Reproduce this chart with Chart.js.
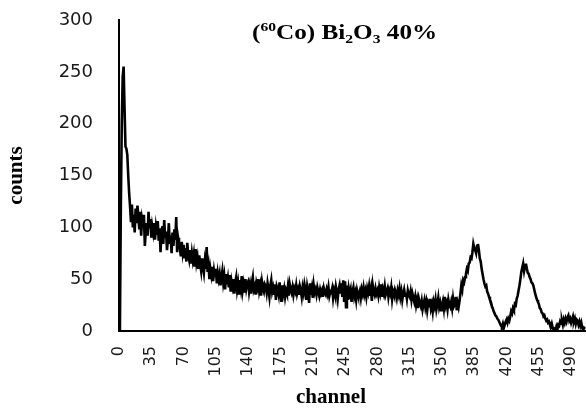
<!DOCTYPE html>
<html><head><meta charset="utf-8">
<style>html,body{margin:0;padding:0;background:#fff;}</style>
<script src="https://cdn.jsdelivr.net/npm/chart.js@4.4.1/dist/chart.umd.min.js"></script>
</head><body>
<canvas id="c" width="586" height="410"></canvas>
<script>
// counts per channel (channel 0 .. 505)
const counts = [
  0, 4, 120, 200, 245, 255, 215, 178, 176, 170,
  150, 133, 120, 105, 122, 100, 112, 95, 118, 104,
  121, 110, 98, 115, 92, 107, 101, 112, 82, 96,
  104, 92, 115, 99, 108, 90, 101, 95, 104, 88,
  100, 93, 106, 87, 99, 76, 95, 101, 84, 107,
  90, 96, 78, 88, 104, 84, 92, 75, 95, 82,
  98, 88, 110, 76, 90, 84, 80, 72, 86, 76,
  83, 70, 80, 67, 85, 74, 69, 78, 65, 75,
  68, 74, 62, 79, 66, 71, 60, 73, 64, 58,
  70, 62, 56, 67, 60, 81, 57, 63, 50, 60,
  54, 62, 48, 58, 52, 60, 46, 56, 50, 55,
  44, 52, 58, 47, 53, 40, 55, 45, 51, 42,
  54, 38, 48, 43, 50, 36, 47, 52, 40, 46,
  35, 49, 42, 53, 39, 45, 37, 50, 41, 46,
  48, 38, 44, 36, 47, 52, 40, 43, 35, 46,
  42, 50, 39, 44, 34, 47, 41, 38, 45, 43,
  37, 46, 40, 33, 44, 49, 38, 42, 36, 45,
  30, 43, 40, 35, 47, 38, 28, 44, 36, 41,
  33, 39, 36, 43, 34, 45, 40, 37, 42, 35,
  41, 38, 44, 36, 40, 35, 43, 39, 33, 42,
  37, 45, 40, 30, 43, 38, 27, 46, 35, 41,
  32, 44, 37, 40, 35, 42, 38, 34, 40, 36,
  39, 33, 41, 37, 35, 40, 36, 42, 34, 38,
  37, 41, 32, 39, 35, 43, 38, 31, 40, 44,
  36, 46, 33, 49, 28, 48, 23, 44, 30, 41,
  36, 40, 28, 38, 42, 33, 37, 30, 39, 35,
  34, 38, 32, 40, 36, 42, 35, 39, 33, 41,
  37, 43, 34, 40, 29, 44, 38, 35, 41, 36,
  39, 34, 42, 37, 45, 33, 40, 36, 43, 35,
  38, 41, 33, 39, 36, 42, 31, 38, 35, 40,
  37, 32, 39, 35, 41, 33, 38, 30, 36, 40,
  34, 37, 31, 39, 35, 33, 38, 30, 36, 32,
  28, 33, 25, 30, 22, 31, 27, 24, 29, 21,
  26, 30, 23, 28, 20, 27, 24, 31, 22, 26,
  19, 28, 24, 30, 21, 26, 32, 23, 27, 20,
  25, 29, 22, 33, 24, 27, 21, 30, 25, 23,
  28, 22, 31, 24, 26, 33, 20, 27, 23, 29,
  36, 44, 40, 49, 47, 52, 55, 60, 58, 65,
  66, 71, 70, 76, 84, 80, 78, 75, 82, 84,
  78, 70, 67, 60, 55, 50, 46, 43, 44, 38,
  36, 33, 30, 28, 24, 22, 19, 17, 15, 14,
  12, 11, 9, 7, 5, 4, 7, 3, 6, 9,
  11, 8, 12, 10, 14, 19, 17, 22, 20, 26,
  25, 31, 34, 39, 44, 50, 57, 61, 65, 58,
  63, 65, 60, 56, 55, 52, 50, 47, 46, 44,
  40, 36, 33, 30, 28, 26, 22, 21, 18, 17,
  14, 15, 12, 10, 11, 8, 9, 6, 4, 7,
  3, 1, 2, 0, 4, 1, 6, 5, 9, 7,
  10, 6, 11, 8, 12, 9, 13, 15, 10, 12,
  8, 11, 14, 9, 12, 7, 11, 10, 6, 9,
  5, 8, 3, 1, 3, 2
];
const channels = counts.map((_, i) => String(i));
const xTickLabels = ['0','35','70','105','140','175','210','245','280','315','350','385','420','455','490'];
const yTickStep = 50;
const yMin = 0;
const yMax = 300;
const titleParts = ['(', '60', 'Co) Bi', '2', 'O', '3', ' 40%'];
const titlePartKinds = ['n', 'sup', 'n', 'sub', 'n', 'sub', 'n'];
const xAxisTitle = 'channel';
const yAxisTitle = 'counts';

const serif = '"Liberation Serif", "Times New Roman", serif';

const insideTitle = {
  id: 'insideTitle',
  afterDraw(chart) {
    const c = chart.ctx;
    c.save();
    c.fillStyle = '#000';
    c.textBaseline = 'alphabetic';
    c.textAlign = 'left';
    c.translate(252, 39);
    c.scale(1.2, 1);
    let x = 0;
    titleParts.forEach((t, i) => {
      const kind = titlePartKinds[i];
      const size = kind === 'n' ? 21 : 13;
      const dy = kind === 'sup' ? -8 : (kind === 'sub' ? 4 : 0);
      c.font = 'bold ' + size + 'px ' + serif;
      c.fillText(t, x, dy);
      x += c.measureText(t).width;
    });
    c.restore();
  }
};
const whiteBg = {
  id: 'whiteBg',
  beforeDraw(chart) {
    const c = chart.ctx;
    c.save(); c.fillStyle = '#fff'; c.fillRect(0, 0, chart.width, chart.height); c.restore();
  }
};

Chart.defaults.font.family = '"DejaVu Sans", Verdana, sans-serif';

new Chart(document.getElementById('c'), {
  type: 'line',
  data: {
    labels: channels,
    datasets: [{
      data: counts,
      borderColor: '#000',
      borderWidth: 2.6,
      pointRadius: 0,
      tension: 0,
      fill: false
    }]
  },
  options: {
    responsive: false,
    animation: false,
    devicePixelRatio: 1,
    layout: { padding: { top: 20, right: 1, bottom: 0, left: 0 } },
    plugins: { legend: { display: false }, tooltip: { enabled: false } },
    scales: {
      x: {
        type: 'category',
        offset: false,
        grid: { display: false, drawTicks: false },
        border: { display: true, color: '#000', width: 2 },
        ticks: {
          autoSkip: false, minRotation: 90, maxRotation: 90, padding: 15,
          color: '#1a1a1a', font: { size: 16 },
          callback(v) { const l = this.getLabelForValue(v); return xTickLabels.includes(l) ? l : null; }
        },
        title: {
          display: true, text: xAxisTitle + '\u2003\u2003', color: '#000',
          font: { family: serif, size: 21, weight: 'bold' }, padding: { top: 0, bottom: 0 }
        },
        afterFit(s) { s.height = 79; s.paddingLeft = 0; s.paddingRight = 0; }
      },
      y: {
        min: yMin, max: yMax,
        grid: { display: false, drawTicks: false },
        border: { display: true, color: '#000', width: 2 },
        ticks: { stepSize: yTickStep, padding: 26, color: '#1a1a1a', font: { size: 18 } },
        title: {
          display: true, text: yAxisTitle, color: '#000',
          font: { family: serif, size: 21, weight: 'bold' }, padding: { top: 4, bottom: 0 }
        },
        afterFit(s) { s.width = 119; s.paddingTop = 0; s.paddingBottom = 0; }
      }
    }
  },
  plugins: [whiteBg, insideTitle]
});
</script>
</body></html>
